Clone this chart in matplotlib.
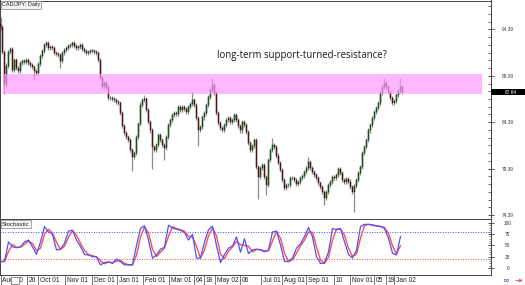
import numpy as np
import pandas as pd
import matplotlib
matplotlib.use("Agg")
import matplotlib.pyplot as plt
from matplotlib.patches import Rectangle
from matplotlib.transforms import blended_transform_factory, ScaledTranslation

# ---------------- data ----------------
symbol_label = "CAD/JPY: Daily"
indicator_label = "Stochastic"
annotation = "long-term support-turned-resistance?"

first_open = 95.0
closes = [
    94.6, 92.0, 88.4, 90.5, 92.0, 92.3, 90.0, 91.1, 90.2, 89.9,
    90.8, 91.0, 90.9, 91.1, 90.8, 90.6, 90.3, 89.9, 89.7, 90.7,
    91.5, 92.1, 92.7, 92.9, 92.35, 92.5, 92.35, 91.9, 91.7, 91.6,
    91.0, 91.9, 92.2, 92.4, 92.6, 92.7, 92.9, 92.6, 92.35, 92.5,
    92.7, 92.3, 92.1, 91.9, 92.0, 92.1, 92.1, 92.0, 91.9, 91.1,
    89.2, 88.15, 88.6, 88.15, 87.0, 86.97, 86.9, 86.8, 86.6, 86.44,
    85.4, 84.0, 83.2, 82.8, 82.46, 81.4, 80.6, 81.1, 82.8, 84.2,
    86.3, 86.8, 86.9, 85.7, 84.4, 83.5, 81.7, 81.4, 81.9, 83.0,
    82.5, 81.9, 81.6, 82.8, 84.1, 84.6, 85.2, 85.36, 85.3, 86.0,
    85.7, 86.0, 85.8, 85.5, 86.0, 86.4, 86.8, 86.2, 84.8, 83.6,
    83.9, 84.9, 85.4, 86.2, 87.1, 87.9, 88.4, 87.5, 85.4, 84.3,
    83.8, 83.6, 84.07, 84.6, 84.8, 84.4, 84.6, 85.15, 84.6, 84.0,
    83.5, 84.4, 84.1, 83.3, 82.2, 81.4, 81.8, 82.5, 79.6, 78.5,
    79.5, 79.8, 78.5, 77.6, 80.3, 81.4, 81.9, 81.7, 80.8, 80.0,
    79.2, 78.2, 77.3, 77.6, 77.6, 78.4, 78.4, 78.2, 77.7, 77.9,
    78.4, 78.6, 79.0, 79.5, 80.1, 79.5, 79.0, 78.7, 78.4, 77.8,
    77.4, 76.9, 76.2, 76.9, 77.6, 77.9, 78.5, 78.4, 78.7, 79.3,
    78.9, 78.2, 77.9, 78.3, 78.0, 77.4, 76.9, 77.5, 78.2, 78.9,
    79.55, 81.1, 81.7, 82.46, 83.5, 84.07, 84.8, 85.5, 85.9, 86.5,
    87.5, 88.15, 88.6, 88.15, 87.6, 87.0, 86.5, 86.7, 87.3, 87.8,
    88.2, 87.64,
]
notable_highs = {0: 95.5, 72: 87.1, 96: 87.4, 106: 88.9, 136: 82.5,
                 154: 80.4, 192: 88.95, 200: 88.9}
notable_lows = {2: 87.6, 17: 89.2, 30: 90.5, 66: 79.4, 76: 79.6, 82: 80.5,
                99: 82.0, 129: 76.3, 133: 76.8, 162: 75.7, 177: 74.9}

stoch_k = [
    14, 15, 58, 47, 45, 47, 58, 62, 47, 30,
    58, 92, 80, 75, 40, 42, 55, 82, 84, 62,
    48, 30, 29, 25, 25, 7, 12, 14, 10, 20,
    14, 7, 7, 7, 50, 88, 94, 62, 22, 29,
    42, 46, 95, 89, 86, 84, 79, 62, 75, 22,
    22, 58, 85, 93, 50, 12, 30, 44, 49, 69,
    35, 65, 32, 40, 42, 40, 36, 40, 80, 82,
    51, 15, 14, 22, 44, 54, 70, 90, 69, 25,
    10, 11, 36, 88, 85, 88, 58, 30, 22, 40,
    92, 97, 97, 95, 93, 92, 88, 66, 33, 29,
    70,
]
stoch_levels = (20, 80)

band_low, band_high = 87.47, 89.6
current_price = 87.64
price_ticks = [94.39, 89.39, 84.39, 79.39, 74.39]
stoch_ticks = [0, 25, 50, 75, 100]

date_bars = [0, 13.3, 18.8, 32.3, 45.8, 58.3, 71.3, 84.3, 96.8, 101.8,
             107.3, 119.8, 130.3, 140.8, 152.8, 166.8, 174.8, 186.8, 192.8, 196.8]
date_labels = ["Aug 10", "20", "Oct 01", "Nov 01", "Dec 01", "Jan 01", "Feb 01",
               "Mar 01", "04", "18", "May 02", "06", "Jul 01", "Aug 01", "Sep 01",
               "10", "Nov 01", "05", "19", "Jan 02"]

# ---------------- figure ----------------
W, H = 525, 285
fig = plt.figure(figsize=(W / 100, H / 100), dpi=100)
fig.patch.set_facecolor("white")
SMALL = ["Liberation Sans", "DejaVu Sans"]
ax = fig.add_axes([0, 66 / H, 491 / W, 218.5 / H])
ax2 = fig.add_axes([0, 10 / H, 491 / W, 56 / H])

closes_a = np.array(closes, dtype=float)
bars = np.arange(len(closes_a))
opens = np.r_[first_open, closes_a[:-1]]
highs = np.maximum(opens, closes_a)
lows = np.minimum(opens, closes_a)
for kk, v in notable_highs.items():
    highs[kk] = v
for kk, v in notable_lows.items():
    lows[kk] = v

WICK_PAD = 0.22
ax.vlines(bars, lows - WICK_PAD, highs + WICK_PAD, color="#8a8a8a", lw=0.9, zorder=2)
up = closes_a >= opens
h = closes_a - opens
h = np.where(np.abs(h) < 0.03, 0.03, h)
ax.bar(bars[up], h[up], bottom=opens[up], width=0.8, color="#18a018",
       edgecolor="black", lw=0.3, zorder=3)
ax.bar(bars[~up], h[~up], bottom=opens[~up], width=0.8, color="#b01010",
       edgecolor="black", lw=0.3, zorder=3)

# support/resistance band (drawn over candles, semi-transparent)
bt = blended_transform_factory(ax.transAxes, ax.transData)
ax.add_patch(Rectangle((3 / 491, band_low), (482 - 3) / 491, band_high - band_low,
                       transform=bt, facecolor="#ff99ff", alpha=0.7, lw=0, zorder=4))

ax.set_xticks([])
ax.yaxis.tick_right()
ax.set_yticks(price_ticks)
ax.set_yticklabels([f"{t:.2f}" for t in price_ticks])
ax.set_yticks(np.arange(price_ticks[-1], price_ticks[0] + 5, 5 / 6), minor=True)
ax.set_xlim(-0.25, 245.25)
ax.set_ylim(73.96, 97.51)
ax.tick_params(axis="y", which="major", direction="inout", length=4, width=0.6,
               color="#333", labelsize=3.4, labelcolor="#333", pad=10)
ax.tick_params(axis="y", which="minor", direction="in", length=2, width=0.5, color="#333")
for lab in ax.get_yticklabels():
    lab.set_family(SMALL)
    lab.set_horizontalalignment("center")
for s in ax.spines.values():
    s.set_color("#444")
    s.set_linewidth(0.7)

# current price tag
ax.add_patch(Rectangle((1.0, current_price - 0.33), 34 / 491, 0.66, transform=bt,
                       facecolor="black", lw=0, clip_on=False, zorder=6))
ax.text(1 + 20 / 491, current_price, f"{current_price:.2f}", transform=bt, color="white",
        fontsize=3.4, ha="center", va="center", family=SMALL, zorder=7, clip_on=False)

ax.text(217 / 491, 1 - 57.5 / 219, annotation, transform=ax.transAxes, fontsize=6.9,
        family=["Open Sans", "DejaVu Sans"], va="baseline", ha="left", color="#1a1a1a", zorder=8)
ax.text(0.004, 0.992, symbol_label, transform=ax.transAxes, fontsize=4, va="top", ha="left",
        family=SMALL, color="#222", zorder=8,
        bbox=dict(boxstyle="square,pad=0.25", fc="#f4f4f4", ec="#888", lw=0.5))

# ---------------- stochastic ----------------
k = pd.Series(stoch_k, dtype=float)
sig = k.rolling(2, min_periods=1).mean()
sx = bars[::2][: len(k)]
ax2.plot(sx, sig, color="#ff4d4d", lw=1.0, zorder=3)
ax2.plot(sx, k, color="#5050ff", lw=0.9, zorder=4)
ax2.axhline(stoch_levels[1], color="#4a4aff", lw=0.7, ls=(0, (1, 1.6)), zorder=2)
ax2.axhline(stoch_levels[0], color="#ff4040", lw=0.7, ls=(0, (1, 1.6)), zorder=2)
ax2.yaxis.tick_right()
ax2.set_yticks(stoch_ticks)
ax2.set_yticks(np.arange(0, 101, 5), minor=True)
ax2.set_xticks(date_bars)
ax2.set_xticklabels(date_labels)
ax2.set_xlim(-0.25, 245.25)
ax2.set_ylim(-15.6, 108.9)
ax2.tick_params(axis="y", which="major", direction="inout", length=4, width=0.6,
                color="#333", labelsize=3.4, labelcolor="#333", pad=10)
ax2.tick_params(axis="y", which="minor", direction="in", length=1.5, width=0.4, color="#333")
for lab in ax2.get_yticklabels():
    lab.set_family(SMALL)
    lab.set_horizontalalignment("center")
ax2.tick_params(axis="x", direction="out", length=7, width=0.5, color="#444",
                labelsize=4.8, labelcolor="#222", pad=-5.6)
shift = ScaledTranslation(1.6 / 100, 0, fig.dpi_scale_trans)
for lab in ax2.get_xticklabels():
    lab.set_family(SMALL)
    lab.set_horizontalalignment("left")
    lab.set_transform(lab.get_transform() + shift)
for s in ax2.spines.values():
    s.set_color("#444")
    s.set_linewidth(0.7)
ax2.text(0.004, 0.95, indicator_label, transform=ax2.transAxes, fontsize=4.2, va="top",
         ha="left", family=SMALL, color="#222", zorder=8,
         bbox=dict(boxstyle="square,pad=0.25", fc="#f4f4f4", ec="#888", lw=0.5))

# scroll marker box over first date label and corner icons
fig.patches.append(Rectangle((11 / W, 1.5 / H), 8 / W, 6.5 / H, transform=fig.transFigure,
                             facecolor="white", edgecolor="#666", lw=0.5, zorder=10))
fig.text(506 / W, 5 / H, "\u221e", color="#3050d0", fontsize=6, ha="center", va="center",
         family="DejaVu Sans")
fig.text(518 / W, 5 / H, "\u21e5", color="#d02020", fontsize=6, ha="center", va="center",
         family="DejaVu Sans")

fig.savefig("out.png", dpi=100, facecolor="white")
